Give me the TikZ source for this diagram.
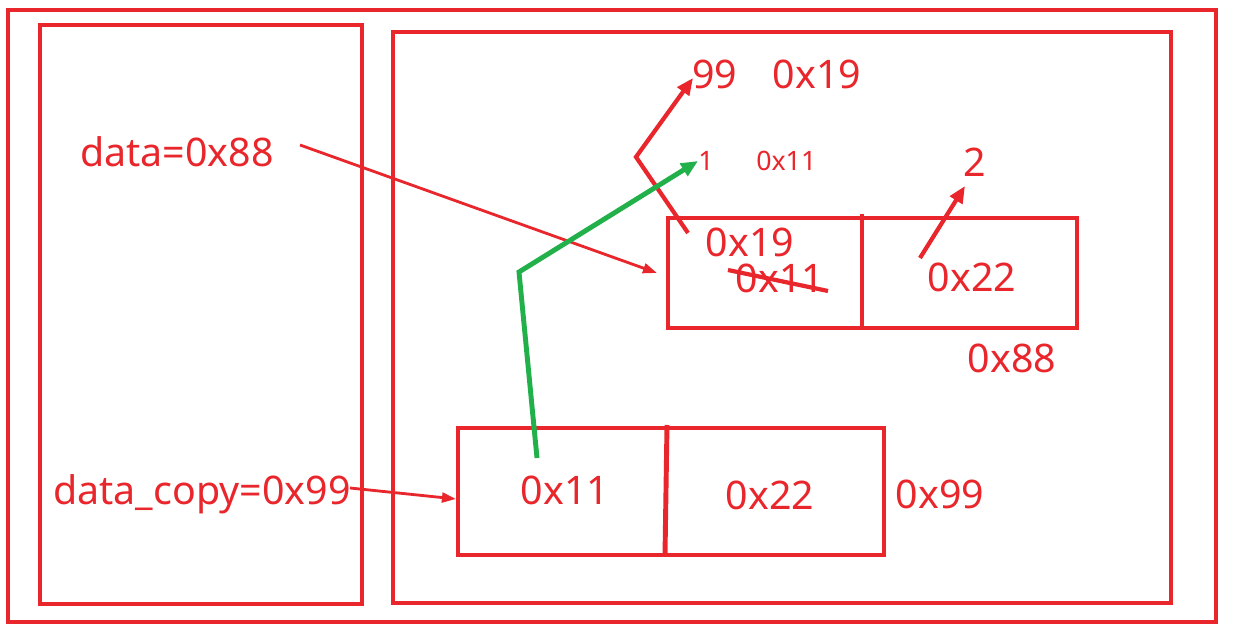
\documentclass[tikz,border=0pt]{standalone}
\usepackage{fontspec}
\setmainfont{Noto Sans}
\usetikzlibrary{arrows.meta}
\definecolor{rd}{HTML}{E8262B}
\definecolor{gr}{HTML}{22B04B}
\begin{document}
\begin{tikzpicture}[x=0.025cm,y=-0.025cm,
  box/.style={draw=rd,line width=2.2pt},
  lbl/.style={text=rd,font=\fontsize{28}{28}\selectfont,inner sep=0pt},
  sml/.style={text=rd,font=\fontsize{19}{19}\selectfont,inner sep=0pt},
  arr/.style={draw=rd,line width=3pt,-{Triangle[length=12pt,width=10pt]}},
  tarr/.style={draw=rd,line width=2pt,-{Triangle[length=10pt,width=7pt]}}]
\useasboundingbox (0,0) rectangle (1239,636);
\draw[box] (8,10) rectangle (1216,622);
\draw[box] (40,25) rectangle (362,604);
\draw[box] (393,32) rectangle (1171,603);
\draw[box] (668,218) rectangle (1077,328);
\draw[draw=rd,line width=3.5pt] (862,214) -- (862,328);
\draw[box] (458,428) rectangle (884,555);
\draw[draw=rd,line width=3.5pt] (667,425) -- (665,555);
\node[lbl] (data) at (177,152) {data=0x88};
\node[lbl] (dcopy) at (202,494) {data\_copy=0x99};
\node[lbl,anchor=west] (t99) at (692,74) {99\hspace{0.9em}0x19};
\node[sml,anchor=west] (t1) at (698,161) {1\hspace{1.6em}0x11};
\node[lbl] (t2) at (975,162) {2};
\node[lbl] (a19) at (750,242) {0x19};
\node[lbl] (a11) at (780,278) {0x11};
\node[lbl] (a22) at (972,277) {0x22};
\node[lbl] (a88) at (1012,358) {0x88};
\node[lbl] (b11) at (565,490) {0x11};
\node[lbl] (b22) at (770,495) {0x22};
\node[lbl] (b99) at (940,494) {0x99};
\coordinate (d1) at (300,145);
\coordinate (d2) at (657,273);
\coordinate (c1) at (350,488);
\coordinate (c2) at (456,499);
\draw[tarr] (d1) -- (d2);
\draw[tarr] (c1) -- (c2);
\coordinate (r0) at (688,233);
\coordinate (r1) at (636,157);
\coordinate (r2) at (693,78);
\draw[arr] (r0) -- (r1) -- (r2);
\coordinate (g0) at (537,458);
\coordinate (g1) at (519,272);
\coordinate (g2) at (698,161);
\draw[draw=gr,line width=3.5pt,-{Triangle[length=12pt,width=10pt]}] (g0) -- (g1) -- (g2);
\coordinate (q0) at (920,258);
\coordinate (q1) at (965,186);
\draw[arr] (q0) -- (q1);
\coordinate (s0) at (728,270);
\coordinate (s1) at (828,291);
\draw[draw=rd,line width=3pt] (s0) -- (s1);
\end{tikzpicture}
\end{document}
